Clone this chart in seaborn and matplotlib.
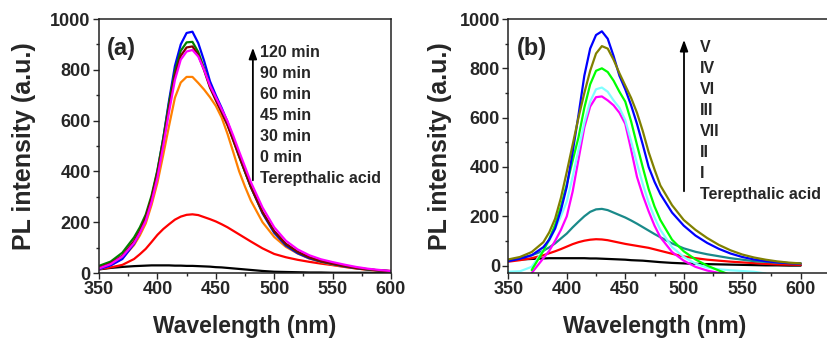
import numpy as np
import pandas as pd
import matplotlib
matplotlib.use("Agg")
import matplotlib.pyplot as plt
from matplotlib.ticker import FixedLocator
import seaborn as sns

# ---------------- data ----------------
wavelength = [350, 360, 370, 380, 385, 390, 395, 400, 405, 410, 415, 420, 425, 430, 435, 440,
              445, 450, 455, 460, 465, 470, 475, 480, 490, 500, 510, 520, 530, 540, 550, 560,
              570, 580, 590, 600]

# panel (a): irradiation time series
a_labels = ["120 min", "90 min", "60 min", "45 min", "30 min", "0 min", "Terepthalic acid"]
a_120 = [15, 30, 55, 115, 160, 215, 295, 400, 530, 680, 815, 900, 945, 950, 905, 835,
         755, 700, 650, 595, 530, 465, 400, 340, 235, 158, 108, 78, 58, 45, 35, 26, 19, 14, 10, 7]
a_90 = [28, 45, 80, 140, 180, 230, 305, 405, 530, 670, 795, 875, 908, 910, 870, 805,
        735, 685, 635, 585, 522, 458, 398, 338, 238, 163, 113, 82, 61, 46, 36, 27, 20, 14, 10, 7]
a_60 = [20, 38, 68, 125, 165, 218, 295, 392, 515, 652, 778, 855, 888, 892, 858, 798,
        730, 680, 632, 582, 522, 460, 400, 340, 240, 165, 115, 84, 62, 47, 37, 28, 20, 15, 10, 7]
a_45 = [18, 35, 65, 118, 158, 205, 280, 375, 500, 635, 760, 840, 872, 878, 852, 800,
        738, 692, 645, 598, 540, 478, 418, 358, 258, 180, 127, 93, 70, 54, 43, 33, 24, 17, 12, 8]
a_30 = [15, 30, 58, 110, 148, 195, 268, 355, 465, 580, 690, 750, 772, 772, 748, 722,
        692, 658, 612, 548, 475, 400, 340, 285, 200, 142, 103, 77, 57, 43, 33, 25, 18, 13, 9, 6]
a_0 = [15, 22, 32, 55, 74, 95, 122, 150, 173, 192, 210, 222, 229, 231, 228, 220,
       212, 203, 192, 180, 166, 152, 138, 124, 97, 75, 62, 52, 44, 37, 31, 24, 18, 13, 10, 8]
a_ta = [14, 20, 24, 27, 28, 29, 30, 30, 30, 30, 29, 29, 28, 28, 27, 26,
        25, 23, 22, 20, 18, 16, 14, 12, 8, 5, 4, 3, 2, 2, 1, 1, 1, 1, 1, 1]

# panel (b): catalyst series
b_labels = ["V", "IV", "VI", "III", "VII", "II", "I", "Terepthalic acid"]
b_V = [18, 28, 42, 75, 105, 150, 225, 320, 460, 610, 770, 880, 935, 950, 920, 850,
       770, 715, 650, 575, 490, 400, 340, 290, 215, 162, 122, 92, 68, 49, 35, 25, 18, 13, 10, 8]
b_IV = [25, 35, 55, 95, 135, 190, 275, 380, 490, 600, 700, 790, 860, 890, 880, 835,
        780, 730, 680, 620, 545, 460, 390, 325, 245, 185, 145, 112, 84, 62, 45, 33, 24, 17, 12, 9]
b_VI = [np.nan, np.nan, -18, 60, 108, 165, 240, 330, 425, 520, 640, 735, 790, 800, 785, 750,
        705, 665, 585, 490, 398, 310, 240, 185, 105, 58, 25, 0, -20, -38,
        np.nan, np.nan, np.nan, np.nan, np.nan, np.nan]
b_III = [-25, -23, -5, 62, 100, 150, 200, 260, 360, 470, 580, 665, 715, 722, 705, 670,
         640, 590, 505, 415, 330, 255, 195, 145, 75, 35, 8, -8, -15, -19, -22, -25, -32,
         np.nan, np.nan, np.nan]
b_VII = [np.nan, np.nan, -30, 30, 60, 100, 145, 200, 300, 430, 560, 645, 683, 686, 670, 650,
         620, 575, 470, 360, 285, 220, 162, 115, 55, 20, -5, -20, -30, -42,
         np.nan, np.nan, np.nan, np.nan, np.nan, np.nan]
b_II = [20, 30, 42, 60, 74, 90, 110, 130, 155, 178, 200, 218, 228, 230, 225, 215,
        205, 195, 183, 170, 156, 142, 128, 115, 90, 70, 56, 46, 38, 30, 24, 18, 15, 12, 10, 9]
b_I = [16, 22, 30, 42, 50, 58, 67, 77, 87, 95, 101, 105, 107, 106, 103, 98,
       93, 88, 84, 80, 76, 72, 66, 60, 48, 37, 30, 24, 20, 16, 13, 10, 7, 5, 4, 3]
b_ta = [22, 25, 27, 29, 30, 30, 30, 30, 30, 30, 30, 29, 29, 28, 27, 26,
        25, 24, 22, 21, 20, 18, 16, 14, 11, 9, 7, 6, 5, 4, 3, 2, 1, 1, 0, 0]

x_ticks = [350, 400, 450, 500, 550, 600]
y_ticks = [0, 200, 400, 600, 800, 1000]

# ---------------- tables ----------------
def long_table(series):
    frames = []
    for name, vals in series:
        frames.append(pd.DataFrame({"wl": wavelength, "I": vals, "s": name}))
    return pd.concat(frames, ignore_index=True)

df_a = long_table([("Terepthalic acid", a_ta), ("0 min", a_0), ("30 min", a_30),
                   ("120 min", a_120), ("90 min", a_90), ("60 min", a_60), ("45 min", a_45)])
pal_a = {"Terepthalic acid": "#000000", "0 min": "#ff0000", "30 min": "#ff8000",
         "120 min": "#0000ff", "90 min": "#008000", "60 min": "#800000", "45 min": "#ff00ff"}
order_a = ["Terepthalic acid", "0 min", "30 min", "120 min", "90 min", "60 min", "45 min"]

df_b = long_table([("Terepthalic acid", b_ta), ("I", b_I), ("II", b_II), ("VII", b_VII),
                   ("III", b_III), ("VI", b_VI), ("V", b_V), ("IV", b_IV)])
pal_b = {"Terepthalic acid": "#000000", "I": "#ff0000", "II": "#1a8a8a", "VII": "#ff00ff",
         "III": "#80ffff", "VI": "#00ff00", "V": "#0000ff", "IV": "#808000"}
order_b = ["Terepthalic acid", "I", "II", "VII", "III", "VI", "V", "IV"]

# ---------------- figure ----------------
sns.set_theme(style="ticks")
plt.rcParams["font.family"] = ["Liberation Sans", "DejaVu Sans"]
plt.rcParams["font.weight"] = "bold"

fig = plt.figure(figsize=(8.28, 3.39), dpi=100)
W, H = 828.0, 339.0
ax_a = fig.add_axes([99 / W, 1 - 273 / H, 292 / W, 254 / H])
ax_b = fig.add_axes([508.3 / W, 1 - 273 / H, 327.5 / W, 254 / H])

sns.lineplot(data=df_a, x="wl", y="I", hue="s", hue_order=order_a, palette=pal_a,
             lw=1.6, ax=ax_a, legend=False, sort=False)
sns.lineplot(data=df_b, x="wl", y="I", hue="s", hue_order=order_b, palette=pal_b,
             lw=1.6, ax=ax_b, legend=False, sort=False)

ax_a.set_xlim(350, 600)
ax_a.set_ylim(0, 1000)
ax_b.set_xlim(350, 630)
ax_b.set_ylim(-30, 1000)

for ax in (ax_a, ax_b):
    ax.set_xticks(x_ticks)
    ax.set_yticks(y_ticks)
    ax.xaxis.set_minor_locator(FixedLocator([375, 425, 475, 525, 575]))
    ax.yaxis.set_minor_locator(FixedLocator([100, 300, 500, 700, 900]))
    ax.tick_params(which="major", direction="out", length=4, width=1, labelsize=13,
                   pad=2, top=False, right=False)
    ax.tick_params(which="minor", direction="out", length=2.5, width=1, top=False, right=False)
    for lab in ax.get_xticklabels() + ax.get_yticklabels():
        lab.set_fontweight("bold")
    for sp in ax.spines.values():
        sp.set_visible(True)
        sp.set_linewidth(1.1)
        sp.set_color("#222222")
    ax.set_xlabel("Wavelength (nm)", fontsize=16.5, fontweight="bold")
    ax.set_ylabel("PL intensity (a.u.)", fontsize=18, fontweight="bold")

ax_a.xaxis.set_label_coords(0.5, -0.165)
ax_b.xaxis.set_label_coords(146.2 / 327.5, -0.165)
ax_a.yaxis.set_label_coords(-63 / 292, 0.5)
ax_b.yaxis.set_label_coords(-56 / 327.5, 0.5)

# panel letters
ax_a.text(0.027, 0.882, "(a)", transform=ax_a.transAxes, fontsize=17, fontweight="bold",
          va="center", ha="left")
ax_b.text(0.027, 0.882, "(b)", transform=ax_b.transAxes, fontsize=17, fontweight="bold",
          va="center", ha="left")

# annotation lists with arrows
def label_stack(ax, labels, x_text, y_top, step, x_arrow, y0, y1):
    for i, t in enumerate(labels):
        ax.text(x_text, y_top - i * step, t, transform=ax.transAxes, fontsize=11.5,
                fontweight="bold", va="center", ha="left")
    ax.annotate("", xy=(x_arrow, y1), xytext=(x_arrow, y0), xycoords="axes fraction",
                arrowprops=dict(arrowstyle="-|>,head_length=0.55,head_width=0.2",
                                color="black", lw=1.3))

label_stack(ax_a, a_labels, 0.551, 0.870, 0.0827, 0.527, 0.354, 0.898)
label_stack(ax_b, b_labels, 0.585, 0.886, 0.0823, 0.5365, 0.311, 0.929)

fig.savefig("out.png", dpi=100)
